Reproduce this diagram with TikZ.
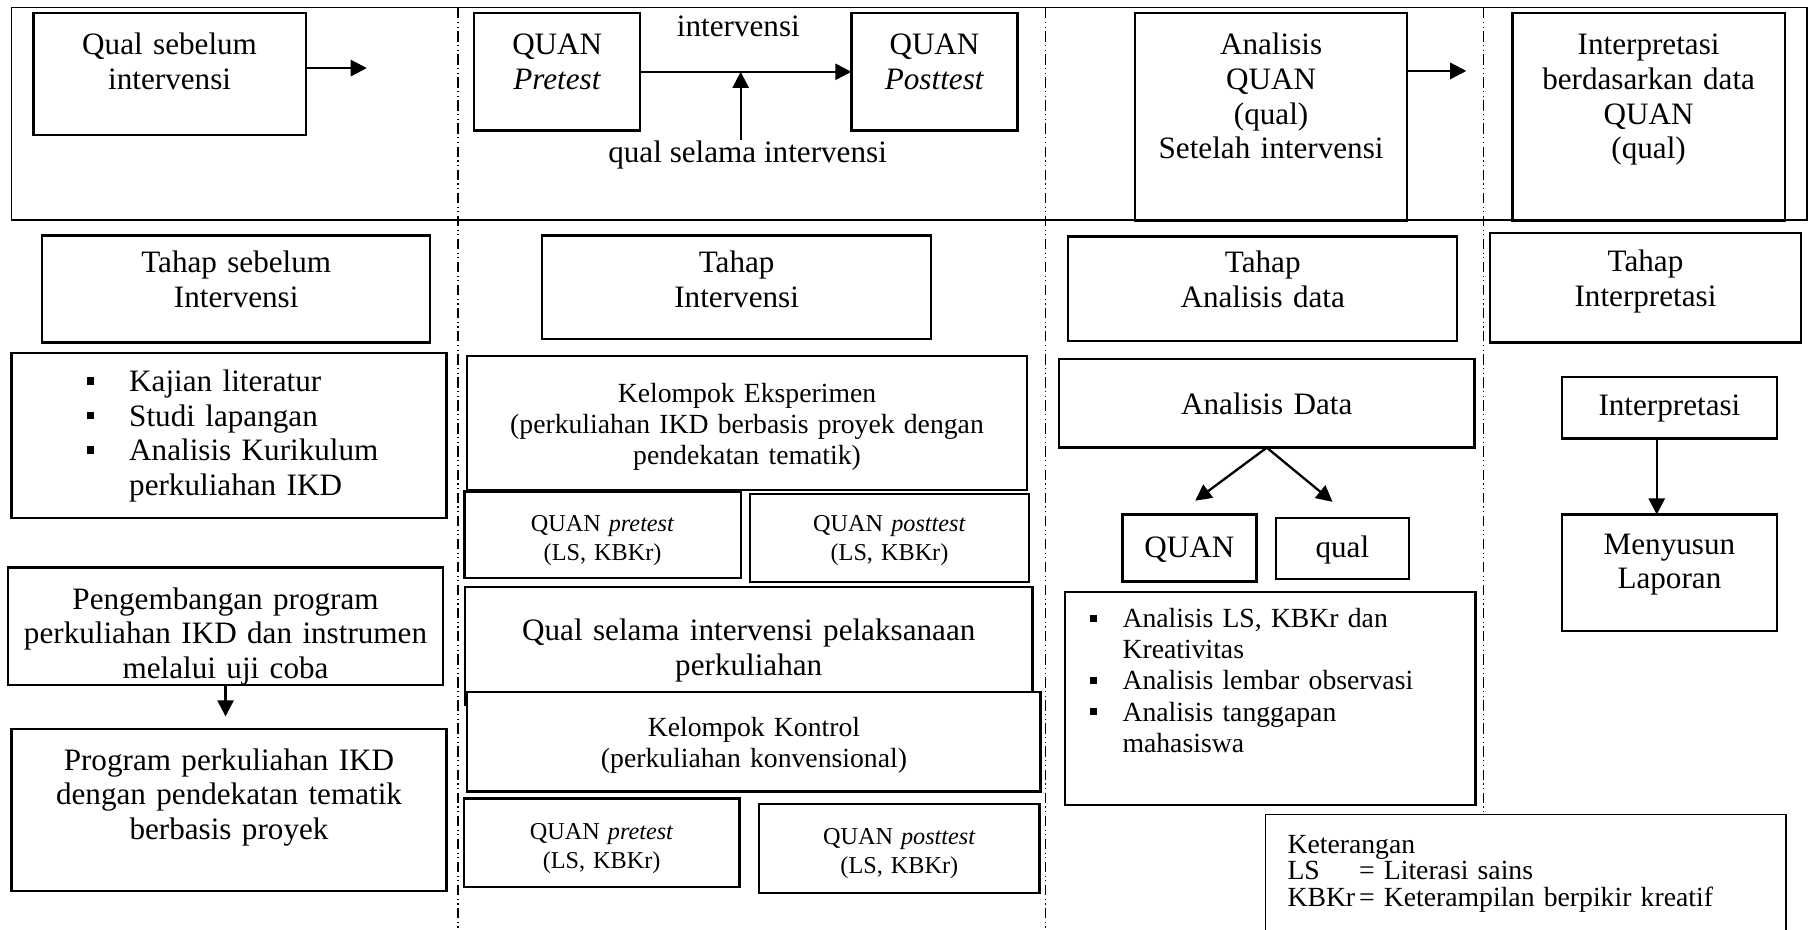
\documentclass[tikz,border=0pt]{standalone}
\usepackage{fontspec}
\setmainfont{Liberation Serif}
\usetikzlibrary{arrows.meta}
\tikzstyle{box} = [rectangle, draw=black, line width=1pt, inner sep=0pt, outer sep=0pt, align=center, anchor=north, font=\fontsize{13.5}{15}\selectfont]
\tikzstyle{midtext} = [font=\fontsize{12}{13.5}\selectfont]
\tikzstyle{smalltext} = [font=\fontsize{10.5}{12.5}\selectfont]
\tikzstyle{lbl} = [inner sep=0pt, font=\fontsize{13.5}{15}\selectfont]
\tikzstyle{legendbox} = [rectangle, draw=black, line width=0.6pt, inner xsep=9.5pt, inner ysep=0pt, outer sep=0pt, align=left, anchor=north, font=\fontsize{12}{11.5}\selectfont]
\tikzstyle{arrow} = [line width=1pt, -{Triangle[length=7pt, width=7pt]}]
\tikzstyle{divider} = [line width=0.6pt, dash pattern=on 4.5pt off 1.5pt on 0.5pt off 1.5pt on 0.5pt off 1.5pt]
\newcommand{\sqbul}{\raisebox{0.22em}{\rule{0.25em}{0.25em}}}
\begin{document}
\begin{tikzpicture}[x=0.5pt, y=0.5pt, yscale=-1]
\useasboundingbox (0,0) rectangle (1568,806);

% top band
\draw [line width=0.75pt] (10,6.5) rectangle (1566,191);

\node at (147, 11.5) (qualpre) [box, text width=118pt, text height=18pt, text depth=34.75pt] {Qual sebelum\\intervensi};
\node at (483, 11.5) (quanpre) [box, text width=72pt, text height=18pt, text depth=32.75pt] {QUAN\\\textit{Pretest}};
\node at (810, 11.5) (quanpost) [box, text width=72pt, text height=18pt, text depth=32.75pt] {QUAN\\\textit{Posttest}};
\node at (1101.75, 11.5) (analquan) [box, text width=117.75pt, text height=18pt, text depth=71.75pt] {Analisis\\QUAN\\(qual)\\Setelah intervensi};
\node at (1429, 11.5) (interpquan) [box, text width=118pt, text height=18pt, text depth=71.75pt] {Interpretasi\\berdasarkan data\\QUAN\\(qual)};

\node at (640, 23) (intlbl) [lbl] {intervensi};
\node at (648, 134) (qsellbl) [lbl] {qual selama intervensi};

\coordinate (qualtip) at (318, 59);
\coordinate (qseltip) at (quanpre.east -| 642,0);
\coordinate (analtip) at (1271, 61.5);

\draw [arrow] (qualpre.east |- qualtip) -- (qualtip);
\draw [arrow] (quanpre) -- (quanpost);
\draw [arrow] (qsellbl.north -| qseltip) -- (qseltip);
\draw [arrow] (analquan.east |- analtip) -- (analtip);

% tahap row
\node at (204.75, 204) (tahappre) [box, text width=168.25pt, text height=16.25pt, text depth=30.25pt] {Tahap sebelum\\Intervensi};
\node at (638.5, 204) (tahapint) [box, text width=168.5pt, text height=16.25pt, text depth=28.75pt] {Tahap\\Intervensi};
\node at (1094.5, 205) (tahapanal) [box, text width=168.5pt, text height=15.75pt, text depth=29.5pt] {Tahap\\Analisis data};
\node at (1426.25, 202) (tahapinterp) [box, text width=134.75pt, text height=16.75pt, text depth=30.75pt] {Tahap\\Interpretasi};

% sebelum intervensi
\node at (198.5, 306) (kajian) [box, align=left, text width=188.5pt, text height=16.75pt, text depth=54.75pt] {\hspace*{32.5pt}\makebox[18.5pt][l]{\sqbul}Kajian literatur\\\hspace*{32.5pt}\makebox[18.5pt][l]{\sqbul}Studi lapangan\\\hspace*{32.5pt}\makebox[18.5pt][l]{\sqbul}Analisis Kurikulum\\\hspace*{51pt}perkuliahan IKD};
\node at (195.5, 492) (pengembangan) [box, text width=188.5pt, text height=18pt, text depth=33pt] {Pengembangan program\\perkuliahan IKD dan instrumen\\melalui uji coba};
\node at (198.5, 632) (program) [box, text width=188.5pt, text height=17.75pt, text depth=52.25pt] {Program perkuliahan IKD\\dengan pendekatan tematik\\berbasis proyek};

\draw [arrow, shorten >=5.5pt] (pengembangan.south) -- (pengembangan.south |- program.north);

% intervensi
\node at (647.5, 308.6) (eksperimen) [box, midtext, text width=242.5pt, text height=20.2pt, text depth=38pt] {Kelompok Eksperimen\\(perkuliahan IKD berbasis proyek dengan\\pendekatan tematik)};
\node at (522.3, 426) (pretestA) [box, smalltext, text width=119.7pt, text height=17.3pt, text depth=20.2pt] {QUAN \textit{pretest}\\(LS, KBKr)};
\node at (771, 428) (posttestA) [box, smalltext, text width=121pt, text height=16.3pt, text depth=22pt] {QUAN \textit{posttest}\\(LS, KBKr)};
\node at (649, 508.5) (qualselama) [box, text width=246pt, text height=23.5pt, text depth=27.75pt] {Qual selama intervensi pelaksanaan\\perkuliahan};
\node at (653.5, 600) (kontrol) [box, midtext, fill=white, text width=248.5pt, text height=19pt, text depth=24pt] {Kelompok Kontrol\\(perkuliahan konvensional)};
\node at (521.5, 692) (pretestB) [box, smalltext, text width=119.5pt, text height=18pt, text depth=20.5pt] {QUAN \textit{pretest}\\(LS, KBKr)};
\node at (779.5, 697) (posttestB) [box, smalltext, text width=121.5pt, text height=17.35pt, text depth=21.15pt] {QUAN \textit{posttest}\\(LS, KBKr)};

% analisis data
\node at (1098, 311) (analdata) [box, text width=180pt, text height=24.25pt, text depth=14.25pt] {Analisis Data};
\node at (1031, 446) (quan) [box, text width=58pt, text height=18.75pt, text depth=10.25pt] {QUAN};
\node at (1163.5, 449) (qual) [box, text width=57.5pt, text height=17.25pt, text depth=9.25pt] {qual};

\coordinate (quantip) at (1036, 434);
\coordinate (qualtipB) at (1155, 435);
\draw [arrow] (analdata.south) -- (quantip);
\draw [arrow] (analdata.south) -- (qualtipB);

\node at (1101, 513) (analisislist) [box, midtext, align=left, text width=178pt, text height=15.5pt, text depth=77pt] {\hspace*{11pt}\makebox[14pt][l]{\sqbul}Analisis LS, KBKr dan\\\hspace*{25pt}Kreativitas\\\hspace*{11pt}\makebox[14pt][l]{\sqbul}Analisis lembar observasi\\\hspace*{11pt}\makebox[14pt][l]{\sqbul}Analisis tanggapan\\\hspace*{25pt}mahasiswa};

% interpretasi
\node at (1447, 327) (interpretasi) [box, text width=93pt, text height=16.75pt, text depth=9.75pt] {Interpretasi};
\node at (1447, 446) (laporan) [box, text width=93pt, text height=17.25pt, text depth=33.25pt] {Menyusun\\Laporan};

\draw [arrow] ([xshift=-5.5pt]interpretasi.south) -- ([xshift=-5.5pt]laporan.north);

\node at (1322.5, 706) (legend) [legendbox, text width=206.5pt, text height=16.75pt, text depth=36.25pt] {Keterangan\\\makebox[31pt][l]{LS}= Literasi sains\\\makebox[31pt][l]{KBKr}= Keterampilan berpikir kreatif};

% phase dividers
\draw [divider] (397,7) -- (397,806);
\draw [divider] (906,7) -- (906,806);
\draw [divider] (1286,7) -- (legend.north -| 1286,7);

\end{tikzpicture}
\end{document}
